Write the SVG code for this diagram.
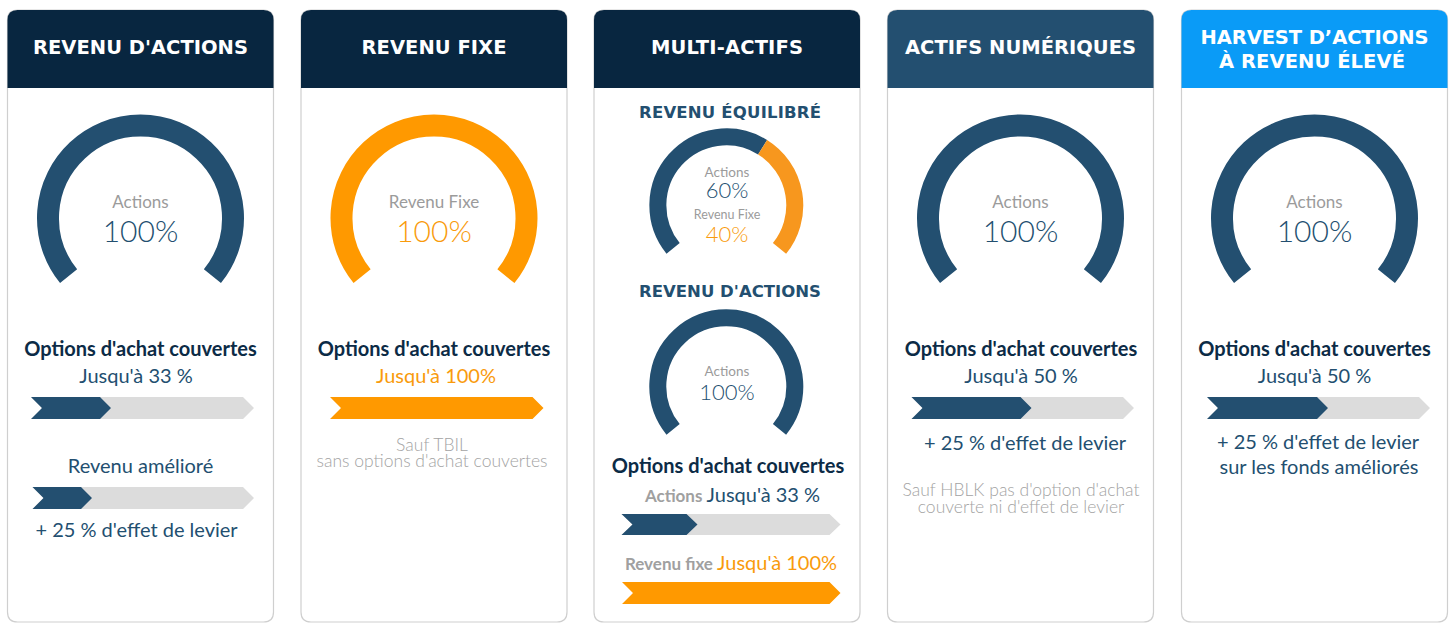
<svg xmlns="http://www.w3.org/2000/svg" width="1452" height="625" viewBox="0 0 1452 625">
<defs>
<style>
.card{fill:#ffffff;stroke:#cfcfcf;stroke-width:1.2}
.hd{font-family:"DejaVu Sans","Liberation Sans",sans-serif;font-weight:700;font-size:19.5px;fill:#ffffff;text-anchor:middle}
.sub{font-family:"DejaVu Sans","Liberation Sans",sans-serif;font-weight:700;font-size:16.5px;fill:#234f70;text-anchor:middle}
.g{fill:none;stroke:#234f70}
.go{fill:none;stroke:#ff9900}
.lbl{font-family:Lato,"Liberation Sans",sans-serif;font-size:17px;fill:#9b9b9b;text-anchor:middle}
.big{font-family:Lato,"Liberation Sans",sans-serif;font-weight:300;font-size:30px;fill:#234f70;text-anchor:middle}
.slbl{font-family:Lato,"Liberation Sans",sans-serif;font-size:13.5px;fill:#9b9b9b;text-anchor:middle}
.sbig{font-family:Lato,"Liberation Sans",sans-serif;font-weight:300;font-size:22px;fill:#234f70;text-anchor:middle}
.opt{font-family:Lato,"Liberation Sans",sans-serif;font-weight:700;font-size:20px;fill:#0c2b46;text-anchor:middle}
.bt{font-family:Lato,"Liberation Sans",sans-serif;font-size:20px;fill:#234f70;text-anchor:middle}
.or{fill:#f99b0c}
.note{font-family:Lato,"Liberation Sans",sans-serif;font-weight:300;font-size:17.5px;fill:#a3a3a3;text-anchor:middle}
.gl{font-family:Lato,"Liberation Sans",sans-serif;font-weight:700;font-size:17px;fill:#a0a0a0}
.bar{fill:#dcdcdc}
.bd{fill:#234f70}
.bo{fill:#ff9900}
</style>
</defs>

<g id="card-revenu-actions">
<path class="card" d="M7.5 20 Q7.5 10 17.5 10 L263.5 10 Q273.5 10 273.5 20 L273.5 612 Q273.5 622 263.5 622 L17.5 622 Q7.5 622 7.5 612 Z"/>
<path d="M7.5 20 Q7.5 10 17.5 10 L263.5 10 Q273.5 10 273.5 20 L273.5 88 L7.5 88 Z" fill="#082640"/>
<text class="hd" x="140.5" y="54" textLength="215">REVENU D'ACTIONS</text>
<path class="g" stroke-width="22" d="M68.6 276.2 A92.5 92.5 0 1 1 212.4 276.2"/>
<text class="lbl" x="140.5" y="208">Actions</text>
<text class="big" x="140.5" y="242">100%</text>
<text class="opt" x="140.5" y="356">Options d'achat couvertes</text>
<text class="bt" x="136" y="383">Jusqu'à 33 %</text>
<path class="bar" d="M31 397 L243 397 L254 408 L243 419 L31 419 L42 408 Z"/>
<path class="bd" d="M31 397 L100 397 L111 408 L100 419 L31 419 L42 408 Z"/>
<text class="bt" x="140.5" y="473">Revenu amélioré</text>
<path class="bar" d="M32.5 487 L243 487 L254 498 L243 509 L32.5 509 L43.5 498 Z"/>
<path class="bd" d="M32.5 487 L81 487 L92 498 L81 509 L32.5 509 L43.5 498 Z"/>
<text class="bt" x="136.5" y="537">+ 25 % d'effet de levier</text>
</g>

<g id="card-revenu-fixe">
<path class="card" d="M301 20 Q301 10 311 10 L557 10 Q567 10 567 20 L567 612 Q567 622 557 622 L311 622 Q301 622 301 612 Z"/>
<path d="M301 20 Q301 10 311 10 L557 10 Q567 10 567 20 L567 88 L301 88 Z" fill="#082640"/>
<text class="hd" x="434" y="54" textLength="145">REVENU FIXE</text>
<path class="go" stroke-width="22" d="M362.1 276.2 A92.5 92.5 0 1 1 505.9 276.2"/>
<text class="lbl" x="434" y="208">Revenu Fixe</text>
<text class="big or" x="434" y="242">100%</text>
<text class="opt" x="434" y="356">Options d'achat couvertes</text>
<text class="bt or" x="436" y="383">Jusqu'à 100%</text>
<path class="bo" d="M330 397 L532.5 397 L543.5 408 L532.5 419 L330 419 L341 408 Z"/>
<text class="note" x="432" y="451">Sauf TBIL</text>
<text class="note" x="432" y="467">sans options d'achat couvertes</text>
</g>

<g id="card-multi-actifs">
<path class="card" d="M594 20 Q594 10 604 10 L850 10 Q860 10 860 20 L860 612 Q860 622 850 622 L604 622 Q594 622 594 612 Z"/>
<path d="M594 20 Q594 10 604 10 L850 10 Q860 10 860 20 L860 88 L594 88 Z" fill="#082640"/>
<text class="hd" x="727" y="54" textLength="152">MULTI-ACTIFS</text>
<text class="sub" x="730" y="118" textLength="182">REVENU ÉQUILIBRÉ</text>
<path class="g" stroke-width="17" d="M673.1 248.4 A68.5 68.5 0 0 1 762.6 147.2"/>
<path fill="none" stroke="#f7971e" stroke-width="17" d="M762.6 147.2 A68.5 68.5 0 0 1 779.5 248.4"/>
<text class="slbl" x="727" y="177">Actions</text>
<text class="sbig" x="727" y="198">60%</text>
<text class="slbl" x="727" y="219" style="font-size:12.5px">Revenu Fixe</text>
<text class="sbig or" x="727" y="242">40%</text>
<text class="sub" x="730" y="297" textLength="182">REVENU D'ACTIONS</text>
<path class="g" stroke-width="17" d="M673.1 429.4 A68.5 68.5 0 1 1 779.5 429.4"/>
<text class="slbl" x="727" y="376">Actions</text>
<text class="sbig" x="727" y="400">100%</text>
<text class="opt" x="728" y="473">Options d'achat couvertes</text>
<text x="732.5" y="502" text-anchor="middle"><tspan class="gl">Actions </tspan><tspan class="bt" style="text-anchor:start">Jusqu'à 33 %</tspan></text>
<path class="bar" d="M621.5 514 L829.5 514 L840.5 524.5 L829.5 535 L621.5 535 L632.5 524.5 Z"/>
<path class="bd" d="M621.5 514 L686.5 514 L697.5 524.5 L686.5 535 L621.5 535 L632.5 524.5 Z"/>
<text x="731" y="570" text-anchor="middle"><tspan class="gl">Revenu fixe </tspan><tspan class="bt or" style="text-anchor:start">Jusqu'à 100%</tspan></text>
<path class="bo" d="M622 582 L829.5 582 L840.5 593 L829.5 604 L622 604 L633 593 Z"/>
</g>

<g id="card-actifs-numeriques">
<path class="card" d="M887.5 20 Q887.5 10 897.5 10 L1143.5 10 Q1153.5 10 1153.5 20 L1153.5 612 Q1153.5 622 1143.5 622 L897.5 622 Q887.5 622 887.5 612 Z"/>
<path d="M887.5 20 Q887.5 10 897.5 10 L1143.5 10 Q1153.5 10 1153.5 20 L1153.5 88 L887.5 88 Z" fill="#234f70"/>
<text class="hd" x="1020.5" y="54" textLength="231">ACTIFS NUMÉRIQUES</text>
<path class="g" stroke-width="22" d="M948.6 276.2 A92.5 92.5 0 1 1 1092.4 276.2"/>
<text class="lbl" x="1020.5" y="208">Actions</text>
<text class="big" x="1020.5" y="242">100%</text>
<text class="opt" x="1021" y="356">Options d'achat couvertes</text>
<text class="bt" x="1021" y="383">Jusqu'à 50 %</text>
<path class="bar" d="M911.5 397 L1123 397 L1134 408 L1123 419 L911.5 419 L922.5 408 Z"/>
<path class="bd" d="M911.5 397 L1020.5 397 L1031.5 408 L1020.5 419 L911.5 419 L922.5 408 Z"/>
<text class="bt" x="1025" y="450">+ 25 % d'effet de levier</text>
<text class="note" x="1021" y="496">Sauf HBLK pas d'option d'achat</text>
<text class="note" x="1021" y="513">couverte ni d'effet de levier</text>
</g>

<g id="card-harvest">
<path class="card" d="M1181.5 20 Q1181.5 10 1191.5 10 L1437.5 10 Q1447.5 10 1447.5 20 L1447.5 612 Q1447.5 622 1437.5 622 L1191.5 622 Q1181.5 622 1181.5 612 Z"/>
<path d="M1181.5 20 Q1181.5 10 1191.5 10 L1437.5 10 Q1447.5 10 1447.5 20 L1447.5 88 L1181.5 88 Z" fill="#0a9bf7"/>
<text class="hd" x="1314.5" y="44" textLength="228">HARVEST D’ACTIONS</text>
<text class="hd" x="1312" y="68" textLength="186">À REVENU ÉLEVÉ</text>
<path class="g" stroke-width="22" d="M1242.6 276.2 A92.5 92.5 0 1 1 1386.4 276.2"/>
<text class="lbl" x="1314.5" y="208">Actions</text>
<text class="big" x="1314.5" y="242">100%</text>
<text class="opt" x="1314.5" y="356">Options d'achat couvertes</text>
<text class="bt" x="1314.5" y="383">Jusqu'à 50 %</text>
<path class="bar" d="M1207 397 L1419 397 L1430 408 L1419 419 L1207 419 L1218 408 Z"/>
<path class="bd" d="M1207 397 L1317 397 L1328 408 L1317 419 L1207 419 L1218 408 Z"/>
<text class="bt" x="1318" y="449">+ 25 % d'effet de levier</text>
<text class="bt" x="1319" y="474">sur les fonds améliorés</text>
</g>

<g id="connectors"></g>
</svg>
